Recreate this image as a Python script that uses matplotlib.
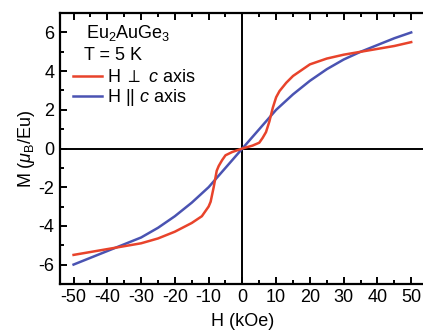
import matplotlib
matplotlib.use("Agg")
import matplotlib.pyplot as plt
from matplotlib.ticker import MultipleLocator

plt.rcParams['font.family'] = ['Liberation Sans', 'DejaVu Sans']
plt.rcParams['mathtext.fontset'] = 'custom'
plt.rcParams['mathtext.rm'] = 'Liberation Sans'
plt.rcParams['mathtext.it'] = 'Liberation Sans:italic'
plt.rcParams['mathtext.bf'] = 'Liberation Sans:bold'
plt.rcParams['axes.unicode_minus'] = False

# Magnetization isotherms of Eu2AuGe3 at 5 K
h_perp = [-50, -40, -30, -25, -20, -15, -12, -10, -9.4, -8.5, -7.6, -7, -6, -5, -3,
          0, 3, 5, 6, 7, 8, 9, 10, 11, 13, 15, 20, 25, 30, 35, 40, 45, 50]
m_perp = [-5.5, -5.2, -4.9, -4.65, -4.3, -3.85, -3.5, -3.0, -2.75, -2.0, -1.15, -0.9, -0.6, -0.35, -0.18,
          0, 0.15, 0.3, 0.55, 0.85, 1.4, 2.1, 2.65, 2.97, 3.4, 3.75, 4.35, 4.65, 4.85, 5.0, 5.15, 5.3, 5.5]

h_par = [-50, -45, -40, -35, -30, -25, -20, -15, -10, -5, 0, 5, 10, 15, 20, 25, 30, 35, 40, 45, 50]
m_par = [-6.0, -5.65, -5.3, -4.95, -4.6, -4.1, -3.5, -2.8, -2.0, -1.0, 0,
         1.0, 2.0, 2.8, 3.5, 4.1, 4.6, 5.0, 5.35, 5.7, 6.0]

x_ticks = [-50, -40, -30, -20, -10, 0, 10, 20, 30, 40, 50]
y_ticks = [-6, -4, -2, 0, 2, 4, 6]

red = '#e8432b'
blue = '#4a53b2'
fs = 13

fig = plt.figure(figsize=(4.23, 3.36), dpi=100)
ax = fig.add_axes([0.142, 0.155, 0.862, 0.806])

ax.axhline(0, color='black', lw=1.4, zorder=1)
ax.axvline(0, color='black', lw=1.4, zorder=1)

ax.plot(h_perp, m_perp, color=red, lw=1.8, label=r'H $\perp$ $c$ axis', zorder=3)
ax.plot(h_par, m_par, color=blue, lw=1.8, label=r'H || $c$ axis', zorder=2)

ax.set_xlim(-54, 54)
ax.set_ylim(-7, 7)
ax.set_xticks(x_ticks)
ax.set_yticks(y_ticks)
ax.xaxis.set_minor_locator(MultipleLocator(5))
ax.yaxis.set_minor_locator(MultipleLocator(1))
ax.tick_params(which='both', direction='in', top=True, right=False, width=1.4,
               labelsize=fs)
ax.tick_params(which='major', length=5, pad=4)
ax.tick_params(which='minor', length=3)
for s in ax.spines.values():
    s.set_linewidth(1.6)

ax.set_xlabel('H (kOe)', fontsize=fs, labelpad=5)
ax.set_ylabel(r'M ($\mu_{\rm B}$/Eu)', fontsize=fs, labelpad=1)

ax.text(0.07, 0.965, r'Eu$_2$AuGe$_3$', transform=ax.transAxes, fontsize=fs,
        va='top', ha='left')
ax.text(0.065, 0.875, 'T = 5 K', transform=ax.transAxes, fontsize=fs,
        va='top', ha='left')

ax.legend(loc='upper left', bbox_to_anchor=(0.0, 0.84), frameon=False,
          fontsize=fs, handlelength=1.6, handletextpad=0.3, labelspacing=0.05,
          borderaxespad=0.3)

fig.savefig('out.png', dpi=100)
